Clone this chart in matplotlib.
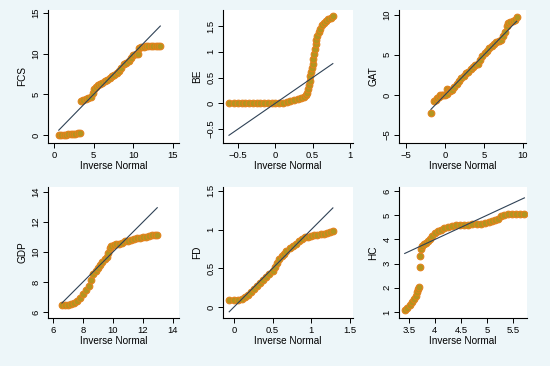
import numpy as np
import matplotlib
matplotlib.use("Agg")
import matplotlib.pyplot as plt
from matplotlib.ticker import FuncFormatter

plt.rcParams['font.family'] = ['Liberation Sans', 'DejaVu Sans']

# quantile points: (inverse normal, sorted value)
fcs_x = [0.6, 0.9, 1.2, 1.5, 1.8, 2.1, 2.4, 2.7, 3.0, 3.3,
         3.4, 3.7, 4.0, 4.3, 4.6, 4.9, 5.1, 5.3, 5.5, 5.8, 6.1, 6.4, 6.7, 7.0, 7.3,
         7.6, 7.9, 8.2, 8.5, 8.8, 9.1, 9.4, 9.7, 10.0, 10.3, 10.6,
         10.7, 11.0, 11.3, 11.6, 11.9, 12.2, 12.5, 12.8, 13.1, 13.4]
fcs_y = [0.0, 0.02, 0.04, 0.06, 0.08, 0.1, 0.13, 0.17, 0.22, 0.28,
         4.15, 4.3, 4.4, 4.5, 4.7, 5.2, 5.6, 5.9, 6.1, 6.3, 6.45, 6.6, 6.8, 7.0, 7.2,
         7.4, 7.6, 7.9, 8.3, 8.7, 8.9, 9.1, 9.5, 9.8, 9.9, 10.0,
         10.7, 10.8, 10.85, 10.9, 10.9, 10.92, 10.95, 10.95, 10.95, 10.95]

be_x = [-0.62, -0.55, -0.5, -0.45, -0.4, -0.35, -0.3, -0.25, -0.2, -0.15, -0.1, -0.05,
        0.0, 0.05, 0.1, 0.15, 0.2, 0.25, 0.3, 0.34, 0.38, 0.41, 0.43,
        0.44, 0.45, 0.46, 0.47, 0.48, 0.49, 0.5, 0.51, 0.52, 0.53, 0.54, 0.55, 0.56,
        0.58, 0.6, 0.62, 0.65, 0.68, 0.71, 0.74, 0.77]
be_y = [0, 0, 0, 0, 0, 0, 0, 0, 0, 0, 0, 0,
        0.003, 0.008, 0.015, 0.03, 0.05, 0.07, 0.09, 0.11, 0.13, 0.16, 0.2,
        0.28, 0.36, 0.44, 0.52, 0.6, 0.68, 0.76, 0.85, 0.95, 1.05, 1.15, 1.22, 1.3,
        1.38, 1.45, 1.52, 1.56, 1.6, 1.63, 1.66, 1.7]

gat_x = [-1.8, -1.4, -1.2, -1.0, -0.8, -0.6, -0.4, -0.2, 0.0, 0.2, 0.3, 0.5, 0.7, 0.9,
         1.2, 1.5, 1.8, 2.1, 2.4, 2.7, 3.0, 3.3, 3.6, 3.9, 4.2, 4.5, 4.8, 5.1, 5.4, 5.7,
         6.0, 6.3, 6.6, 6.9, 7.2, 7.5, 7.7, 7.9, 8.1, 8.4, 8.7, 9.0, 9.2]
gat_y = [-2.3, -0.7, -0.6, -0.4, -0.2, -0.05, 0.0, 0.0, 0.05, 0.1, 0.7, 0.6, 0.5, 0.6,
         1.0, 1.4, 1.8, 2.1, 2.4, 2.7, 2.9, 3.2, 3.5, 3.7, 3.9, 4.3, 4.8, 5.2, 5.5, 5.8,
         6.05, 6.3, 6.55, 6.7, 6.9, 7.3, 7.8, 8.6, 9.0, 9.1, 9.2, 9.4, 9.7]

gdp_x = [6.6, 6.8, 7.0, 7.2, 7.4, 7.6, 7.8, 8.0, 8.2, 8.4, 8.55, 8.7, 8.85, 9.0, 9.15,
         9.3, 9.45, 9.6, 9.7, 9.8, 9.9, 10.05, 10.2, 10.4, 10.6, 10.8, 11.0, 11.2, 11.4,
         11.6, 11.8, 12.0, 12.2, 12.4, 12.6, 12.8, 12.95]
gdp_y = [6.45, 6.45, 6.45, 6.5, 6.6, 6.75, 6.95, 7.2, 7.45, 7.75, 8.1, 8.5, 8.7, 8.9, 9.1,
         9.3, 9.5, 9.65, 9.95, 10.25, 10.4, 10.45, 10.5, 10.55, 10.6, 10.7, 10.75, 10.8, 10.85,
         10.9, 10.95, 11.0, 11.0, 11.05, 11.1, 11.1, 11.15]

fd_x = [-0.06, 0.0, 0.05, 0.1, 0.14, 0.18, 0.22, 0.26, 0.3, 0.34, 0.38, 0.42, 0.46, 0.5,
        0.53, 0.56, 0.59, 0.62, 0.65, 0.68, 0.72, 0.76, 0.8, 0.84, 0.88, 0.92, 0.96, 1.0,
        1.04, 1.08, 1.12, 1.16, 1.2, 1.24, 1.28]
fd_y = [0.09, 0.09, 0.09, 0.1, 0.13, 0.16, 0.2, 0.23, 0.27, 0.31, 0.35, 0.39, 0.43, 0.47,
        0.52, 0.57, 0.62, 0.66, 0.69, 0.72, 0.76, 0.79, 0.82, 0.85, 0.88, 0.9, 0.91, 0.92,
        0.93, 0.93, 0.94, 0.95, 0.96, 0.97, 0.98]

hc_x = [3.42, 3.47, 3.52, 3.56, 3.6, 3.63, 3.66, 3.68, 3.7, 3.71, 3.72, 3.74, 3.76, 3.79,
        3.82, 3.86, 3.9, 3.95, 4.0, 4.06, 4.12, 4.18, 4.25, 4.32, 4.4, 4.48, 4.56, 4.64,
        4.72, 4.8, 4.88, 4.96, 5.04, 5.1, 5.16, 5.22, 5.27, 5.32, 5.4, 5.48, 5.56, 5.64, 5.72]
hc_y = [1.08, 1.18, 1.3, 1.42, 1.52, 1.65, 1.82, 1.95, 2.05, 2.85, 3.3, 3.6, 3.72, 3.8,
        3.86, 3.95, 4.03, 4.15, 4.25, 4.33, 4.4, 4.46, 4.52, 4.56, 4.58, 4.6, 4.6, 4.61,
        4.62, 4.63, 4.65, 4.68, 4.72, 4.76, 4.8, 4.86, 4.95, 5.02, 5.04, 5.05, 5.05, 5.06, 5.07]

names = ["FCS", "BE", "GAT", "GDP", "FD", "HC"]
xs = [fcs_x, be_x, gat_x, gdp_x, fd_x, hc_x]
ys = [fcs_y, be_y, gat_y, gdp_y, fd_y, hc_y]
xticks = [[0, 5, 10, 15], [-0.5, 0, 0.5, 1], [-5, 0, 5, 10],
          [6, 8, 10, 12, 14], [0, 0.5, 1, 1.5], [3.5, 4, 4.5, 5, 5.5]]
yticks = [[0, 5, 10, 15], [-0.5, 0, 0.5, 1, 1.5], [-5, 0, 5, 10],
          [6, 8, 10, 12, 14], [0, 0.5, 1, 1.5], [1, 2, 3, 4, 5, 6]]
xlims = [(-0.76, 15.76), (-0.70, 1.04), (-5.9, 10.4), (5.67, 14.4), (-0.14, 1.54), (3.31, 5.77)]
ylims = [(-0.98, 15.37), (-0.77, 1.81), (-6.0, 10.6), (5.6, 14.33), (-0.14, 1.55), (0.75, 6.17)]

W, H = 550, 366
# axes boxes in pixels: left, right, top, bottom
boxes = [(48, 179, 10, 143), (223, 353, 10, 143), (399, 526, 10, 143),
         (48, 179, 187, 318), (223, 353, 187, 318), (399, 527, 187, 318)]

fig = plt.figure(figsize=(5.5, 3.66), dpi=100, facecolor="#edf6f9")
fmt = FuncFormatter(lambda v, p: ("%g" % v).replace("-", "\u2212"))

for i in range(6):
    l, r, t, b = boxes[i]
    ax = fig.add_axes([l / W, (H - b) / H, (r - l) / W, (b - t) / H])
    ax.set_facecolor("white")
    ax.plot(xs[i], ys[i], "o", ms=4.8, mfc="#b3951f", mec="#e3821c", mew=0.8, zorder=2)
    lo, hi = min(xs[i]), max(xs[i])
    ax.plot([lo, hi], [lo, hi], color="#2f4256", lw=0.8, zorder=3)
    ax.set_xlim(xlims[i])
    ax.set_ylim(ylims[i])
    ax.set_xticks(xticks[i])
    ax.set_yticks(yticks[i])
    ax.xaxis.set_major_formatter(fmt)
    ax.yaxis.set_major_formatter(fmt)
    for s in ["top", "right"]:
        ax.spines[s].set_visible(False)
    for s in ["left", "bottom"]:
        ax.spines[s].set_linewidth(0.8)
    ax.tick_params(length=3.5, width=0.7, labelsize=6.8, pad=2)
    for lab in ax.get_yticklabels():
        lab.set_rotation(90)
        lab.set_va("center")
    ax.set_xlabel("Inverse Normal", fontsize=7.2, labelpad=1)
    ax.set_ylabel(names[i], fontsize=7.2, labelpad=3)

fig.savefig("out.png", dpi=100, facecolor=fig.get_facecolor())
